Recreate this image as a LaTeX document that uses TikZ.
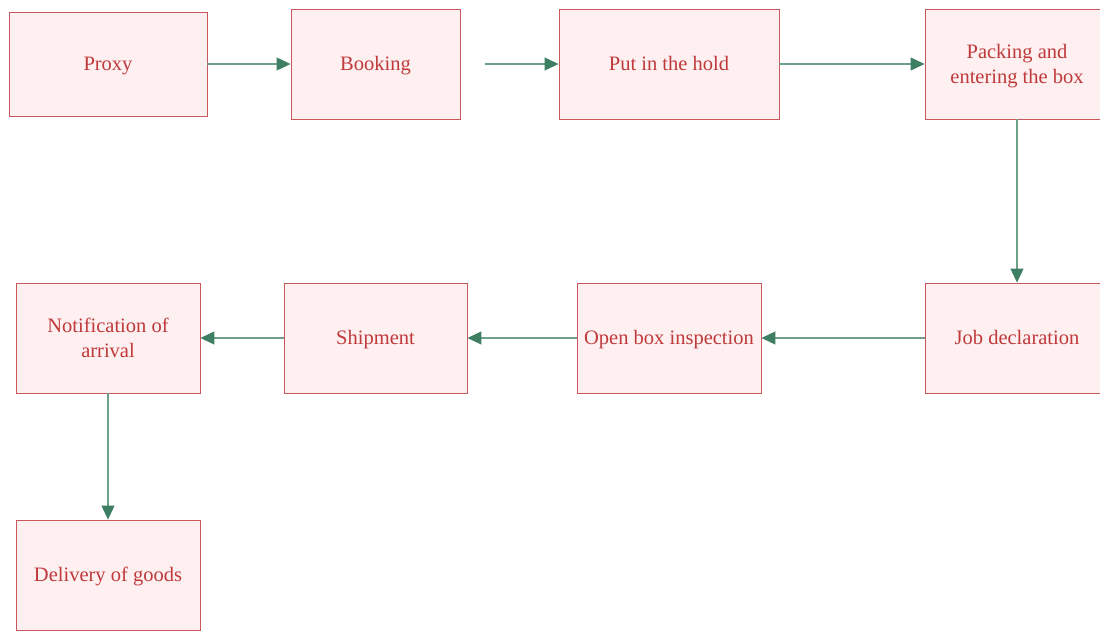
\documentclass[tikz,border=0pt]{standalone}
\usepackage{fontspec}
\setmainfont{Liberation Serif}
\usetikzlibrary{arrows.meta}
\definecolor{boxfill}{HTML}{FEF0F0}
\definecolor{boxline}{HTML}{C9585C}
\definecolor{boxtext}{HTML}{C0393B}
\definecolor{flowline}{HTML}{6E9F88}
\definecolor{flowhead}{HTML}{3E7F63}
\tikzset{
  stepbox/.style={draw=boxline, fill=boxfill, line width=0.9pt, text=boxtext,
    font=\fontsize{20.5}{25}\selectfont, align=center, inner sep=2pt,
    text depth=4pt, minimum height=110pt},
  oneline/.style={text height=16pt},
  twoline/.style={text depth=0pt},
  flow/.style={draw=flowline, line width=1.1pt,
    -{Triangle[length=14pt, width=13pt, color=flowhead, fill=flowhead]}},
}
\begin{document}
\begin{tikzpicture}[x=1pt, y=-1pt]
  \useasboundingbox (0,0) rectangle (1100,630);
  % top row
  \node[stepbox, oneline, minimum width=198pt, minimum height=104pt] (proxy) at (108,64) {Proxy};
  \node[stepbox, oneline, minimum width=169pt] (booking) at (375.5,64) {Booking};
  \node[stepbox, oneline, minimum width=220pt] (hold) at (669,64) {Put in the hold};
  \node[stepbox, twoline, minimum width=184pt] (packing) at (1017,64) {Packing and\\entering the box};
  % middle row
  \node[stepbox, oneline, minimum width=184pt] (declare) at (1017,338) {Job declaration};
  \node[stepbox, oneline, minimum width=184pt] (inspect) at (669,338) {Open box inspection};
  \node[stepbox, oneline, minimum width=183pt] (ship) at (375.5,338) {Shipment};
  \node[stepbox, twoline, minimum width=184pt] (notify) at (108,338) {Notification of\\arrival};
  % bottom
  \node[stepbox, oneline, minimum width=184pt] (deliver) at (108,575) {Delivery of goods};
  \coordinate (bookout) at (485,64);
  % connectors
  \draw[flow] (proxy) -- (booking);
  \draw[flow] (bookout) -- (hold.west);
  \draw[flow] (hold) -- (packing);
  \draw[flow] (packing) -- (declare);
  \draw[flow] (declare) -- (inspect);
  \draw[flow] (inspect) -- (ship);
  \draw[flow] (ship) -- (notify);
  \draw[flow] (notify) -- (deliver);
\end{tikzpicture}
\end{document}
